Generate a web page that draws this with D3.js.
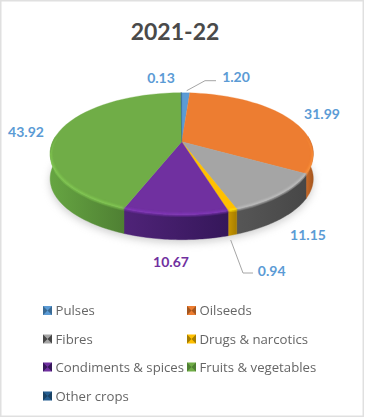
<!DOCTYPE html>
<html><head><meta charset="utf-8">
<script src="https://cdn.jsdelivr.net/npm/d3@7"></script>
<style>html,body{margin:0;padding:0;background:#fff}svg{display:block}</style>
</head><body><div id="c"></div>
<script>
const categories=["Pulses","Oilseeds","Fibres","Drugs & narcotics","Condiments & spices","Fruits & vegetables","Other crops"];
const values=[1.20,31.99,11.15,0.94,10.67,43.92,0.13];
const valueLabels=["1.20","31.99","11.15","0.94","10.67","43.92","0.13"];
const colors=["#5B9BD5","#ED7D31","#A5A5A5","#FFC000","#7030A0","#70AD47","#255E91"];
const sideDark=["#3a6a94","#a4561f","#474747","#a67d00","#35175a","#4f8033","#1a4265"];
const sideLight=["#4f86b8","#c96a28","#565656","#c99700","#4f2378","#66a542","#20507c"];
const labelColors=["#5B9BD5","#5B9BD5","#5B9BD5","#5B9BD5","#7030A0","#5B9BD5","#5B9BD5"];

const W=365,H=418,cx=181.7,cy=141.7,b=129,a=58.6,k=0.197,depth=25;
const svg=d3.select("#c").append("svg").attr("width",W).attr("height",H).style("font-family","Lato, sans-serif");
svg.append("rect").attr("x",0.75).attr("y",0.75).attr("width",W-2.5).attr("height",H-2.5).attr("fill","#fff").attr("stroke","#e0e0e0").attr("stroke-width",1.5);

const defs=svg.append("defs");
defs.append("filter").attr("id","sh").attr("x","-20%").attr("y","-30%").attr("width","140%").attr("height","160%")
  .append("feGaussianBlur").attr("stdDeviation",4);
defs.append("filter").attr("id","soft").attr("x","-10%").attr("y","-30%").attr("width","120%").attr("height","160%")
  .append("feGaussianBlur").attr("stdDeviation",1.2);
defs.append("filter").attr("id","leg").attr("x","-5%").attr("y","-20%").attr("width","110%").attr("height","140%")
  .append("feGaussianBlur").attr("stdDeviation",0.3);

// polar (angle clockwise from the top, radius 0..1) to the tilted page plane
function proj(t,r=1,dy=0){
  const u=r*Math.sin(t),v=-r*Math.cos(t),w=1-k*v;
  return [cx+b*u/w,cy+a*v/w+dy];
}
const arcs=d3.pie().sort(null).value(d=>d)(values);
const line=d3.line();
const samples=(s,e)=>d3.range(0,41).map(i=>s+(e-s)*i/40);
const frontS=Math.PI/2-0.09, frontE=3*Math.PI/2+0.09;

// ground shadow
svg.append("path").attr("d",line(samples(0,2*Math.PI).map(t=>proj(t,1.0,depth+3)))+"Z")
  .attr("fill","#9a9a9a").attr("opacity",.5).attr("filter","url(#sh)");

// side walls, only the part facing the viewer
arcs.forEach((d,i)=>{
  const s=Math.max(d.startAngle,frontS), e=Math.min(d.endAngle,frontE);
  if(e<=s) return;
  const id="side"+i;
  const g=defs.append("linearGradient").attr("id",id).attr("x1","0").attr("x2","1").attr("y1","0").attr("y2","0");
  const leftFirst=proj(e)[0]<proj(s)[0];
  g.append("stop").attr("offset","0").attr("stop-color",leftFirst?sideLight[i]:sideDark[i]);
  g.append("stop").attr("offset","1").attr("stop-color",leftFirst?sideDark[i]:sideLight[i]);
  const top=samples(s,e).map(t=>proj(t));
  const bot=samples(s,e).map(t=>proj(t,1,depth)).reverse();
  svg.append("path").attr("class","side").attr("d",line(top.concat(bot))+"Z").attr("fill",`url(#${id})`).attr("stroke",`url(#${id})`).attr("stroke-width",.4);
});

// top face slices
const face=d=>line([proj(0,0)].concat(samples(d.startAngle,d.endAngle).map(t=>proj(t))))+"Z";
svg.selectAll("path.slice").data(arcs).join("path").attr("class","slice")
  .attr("d",face).attr("fill",(d,i)=>colors[i]).attr("stroke",(d,i)=>colors[i]).attr("stroke-width",.3);

// soft bevel along the front rim
const clip=defs.append("clipPath").attr("id","rim");
clip.append("path").attr("d",line(samples(0,2*Math.PI).map(t=>proj(t,1,3)))+"Z");
const rimG=svg.append("g").attr("clip-path","url(#rim)");
arcs.forEach((d,i)=>{
  const s=Math.max(d.startAngle,frontS), e=Math.min(d.endAngle,frontE);
  if(e<=s) return;
  rimG.append("path").attr("d",line(samples(s,e).map(t=>proj(t,1,0)))).attr("fill","none")
    .attr("stroke",d3.color(colors[i]).brighter(.5)).attr("stroke-width",2.6).attr("filter","url(#soft)").attr("opacity",.85);
});

// leader lines
const leader=[[[186.7,90.7],[205,80.7],[216,80.7]],[[230.7,240],[243,273],[253,273]]];
svg.selectAll("path.lead").data(leader).join("path").attr("class","lead").attr("d",line).attr("fill","none").attr("stroke","#a6a6a6").attr("stroke-width",1);

// title
svg.append("text").attr("x",175).attr("y",40).attr("text-anchor","middle").attr("font-size",23).attr("font-weight",700).attr("fill","#4a4a4a").text("2021-22");

// data labels
const labelPos=[[236,81.5],[322,119],[308,240],[271.7,275.5],[171,266.5],[26,136.5],[161,83]];
svg.selectAll("text.val").data(valueLabels).join("text").attr("class","val")
  .attr("x",(d,i)=>labelPos[i][0]).attr("y",(d,i)=>labelPos[i][1])
  .attr("text-anchor","middle").attr("font-size",14).attr("font-weight",700)
  .attr("fill",(d,i)=>labelColors[i]).text(d=>d);

// legend
const legendPos=[[43,313],[187,313],[43,341.5],[187,341.5],[43,369.5],[187,369.5],[43,398.5]];
const lg=svg.selectAll("g.leg").data(categories).join("g").attr("class","leg").attr("transform",(d,i)=>`translate(${legendPos[i][0]},${legendPos[i][1]})`);
lg.append("rect").attr("x",0).attr("y",-7).attr("width",9).attr("height",9).attr("fill",(d,i)=>colors[i]);
lg.append("path").attr("d","M0,-7L4.5,-2.5L0,2ZM9,-7L4.5,-2.5L9,2Z").attr("fill",(d,i)=>sideDark[i]);
lg.append("text").attr("x",12.5).attr("y",2).attr("font-family","'Open Sans',sans-serif").attr("font-size",13.2).attr("fill","#666").attr("filter","url(#leg)").text(d=>d);
</script></body></html>
